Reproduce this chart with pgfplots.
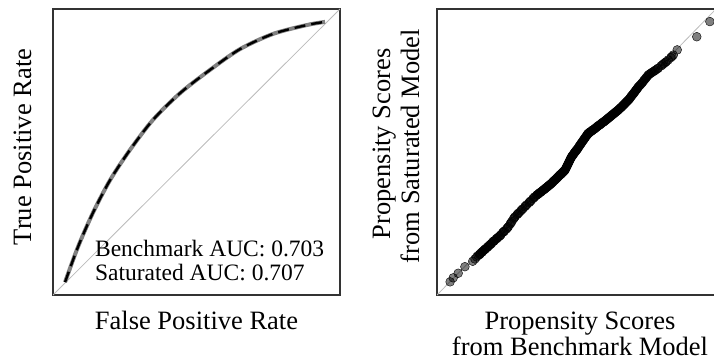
\documentclass[border=0pt]{standalone}
\usepackage{pgfplots}
\pgfplotsset{compat=1.18}
\usepackage{fontspec}
\setmainfont{Liberation Serif}
\definecolor{boxc}{HTML}{333333}
\definecolor{diagc}{HTML}{BBBBBB}
\definecolor{rocgray}{HTML}{808080}
\begin{document}
\begin{tikzpicture}[x=1pt,y=1pt]
\pgfplotsset{
  panel/.style={anchor=south west, scale only axis, xmin=0,xmax=1,ymin=0,ymax=1,
    xtick=\empty, ytick=\empty, axis line style={line width=1.6pt, color=boxc}}
}
\begin{axis}[panel, at={(53pt,67pt)}, width=287pt, height=286pt]
\addplot[diagc, line width=0.8pt] coordinates {(0,0) (1,1)};
\addplot[rocgray, line width=4pt, smooth, tension=0.5] coordinates {
(0.042,0.045) (0.087,0.168) (0.139,0.287) (0.199,0.402) (0.268,0.507) (0.348,0.612)
(0.443,0.706) (0.547,0.787) (0.652,0.860) (0.767,0.913) (0.885,0.944) (0.948,0.955)};
\addplot[black, line width=2.4pt, dash pattern=on 11pt off 6pt, smooth, tension=0.5] coordinates {
(0.042,0.045) (0.087,0.168) (0.139,0.287) (0.199,0.402) (0.268,0.507) (0.348,0.612)
(0.443,0.706) (0.547,0.787) (0.652,0.860) (0.767,0.913) (0.885,0.944) (0.948,0.955)};
\node[anchor=base west, inner sep=0pt, font=\fontsize{23.5}{28}\selectfont] at (axis cs:0.146,0.133) {Benchmark AUC: 0.703};
\node[anchor=base west, inner sep=0pt, font=\fontsize{23.5}{28}\selectfont] at (axis cs:0.146,0.052) {Saturated AUC: 0.707};
\end{axis}
\begin{axis}[panel, at={(437pt,67pt)}, width=279pt, height=286pt]
\addplot[diagc, line width=0.8pt] coordinates {(0,0) (1,1)};
\addplot[only marks, mark=*, mark size=4.4pt, mark options={draw=none, fill=black, fill opacity=0.5}] coordinates {
(0.047,0.046)(0.058,0.060)(0.076,0.076)(0.100,0.099)(0.128,0.118)(0.136,0.126)(0.142,0.133)(0.147,0.138)
(0.152,0.141)(0.156,0.146)(0.161,0.150)(0.166,0.155)(0.170,0.158)(0.175,0.162)(0.180,0.167)(0.186,0.172)
(0.190,0.176)(0.196,0.181)(0.201,0.187)(0.206,0.190)(0.212,0.196)(0.218,0.201)(0.223,0.205)(0.230,0.212)
(0.236,0.219)(0.242,0.224)(0.249,0.231)(0.256,0.239)(0.262,0.248)(0.268,0.257)(0.274,0.266)(0.280,0.274)
(0.287,0.281)(0.294,0.288)(0.300,0.294)(0.308,0.302)(0.315,0.309)(0.322,0.316)(0.330,0.323)(0.337,0.330)
(0.344,0.337)(0.351,0.344)(0.357,0.349)(0.363,0.353)(0.369,0.358)(0.375,0.362)(0.381,0.367)(0.386,0.371)
(0.391,0.375)(0.396,0.379)(0.401,0.383)(0.406,0.387)(0.411,0.391)(0.416,0.396)(0.421,0.401)(0.426,0.405)
(0.431,0.410)(0.436,0.415)(0.441,0.420)(0.446,0.424)(0.451,0.429)(0.455,0.433)(0.459,0.437)(0.463,0.445)
(0.467,0.453)(0.471,0.461)(0.475,0.469)(0.479,0.477)(0.483,0.484)(0.487,0.489)(0.491,0.495)(0.495,0.500)
(0.499,0.505)(0.503,0.510)(0.508,0.518)(0.513,0.525)(0.518,0.532)(0.523,0.539)(0.528,0.546)(0.533,0.553)
(0.538,0.560)(0.542,0.565)(0.547,0.569)(0.552,0.572)(0.557,0.576)(0.562,0.579)(0.567,0.583)(0.572,0.587)
(0.577,0.591)(0.582,0.594)(0.587,0.598)(0.592,0.602)(0.597,0.605)(0.602,0.609)(0.607,0.613)(0.612,0.617)
(0.617,0.621)(0.622,0.625)(0.627,0.629)(0.632,0.633)(0.637,0.637)(0.642,0.641)(0.647,0.645)(0.652,0.649)
(0.657,0.654)(0.662,0.658)(0.667,0.663)(0.672,0.668)(0.677,0.673)(0.682,0.678)(0.687,0.683)(0.692,0.689)
(0.697,0.696)(0.702,0.702)(0.707,0.708)(0.712,0.715)(0.717,0.721)(0.722,0.728)(0.729,0.735)(0.736,0.743)
(0.743,0.752)(0.750,0.760)(0.757,0.769)(0.766,0.775)(0.775,0.781)(0.784,0.787)(0.793,0.793)(0.803,0.801)
(0.813,0.809)(0.822,0.816)(0.829,0.822)(0.838,0.830)(0.847,0.839)(0.861,0.857)(0.931,0.903)(0.978,0.956)
(0.154,0.143)(0.163,0.151)(0.172,0.160)(0.182,0.168)(0.193,0.178)(0.203,0.188)(0.215,0.198)(0.227,0.208)
(0.239,0.221)(0.253,0.235)(0.265,0.252)(0.277,0.270)(0.290,0.284)(0.304,0.298)(0.318,0.312)(0.333,0.326)
(0.348,0.341)(0.360,0.351)(0.366,0.356)(0.372,0.360)(0.378,0.365)(0.384,0.369)(0.389,0.373)(0.394,0.377)
(0.399,0.381)(0.404,0.385)(0.409,0.389)(0.414,0.394)(0.419,0.399)(0.424,0.403)(0.429,0.408)(0.434,0.413)
(0.439,0.418)(0.444,0.422)(0.449,0.427)(0.453,0.431)(0.457,0.435)(0.461,0.441)(0.465,0.449)(0.469,0.457)
(0.473,0.465)(0.477,0.473)(0.481,0.481)(0.485,0.487)(0.489,0.492)(0.493,0.498)(0.497,0.503)(0.501,0.508)
(0.506,0.514)(0.511,0.522)(0.516,0.529)(0.521,0.536)(0.526,0.543)(0.531,0.550)(0.536,0.557)(0.540,0.563)
(0.545,0.567)(0.550,0.571)(0.555,0.574)(0.560,0.578)(0.565,0.581)(0.570,0.585)(0.575,0.589)(0.580,0.593)
(0.585,0.596)(0.590,0.600)(0.595,0.604)(0.600,0.607)(0.605,0.611)(0.610,0.615)(0.615,0.619)(0.620,0.623)
(0.625,0.627)(0.630,0.631)(0.635,0.635)(0.640,0.639)(0.645,0.643)(0.650,0.647)(0.655,0.652)(0.660,0.656)
(0.665,0.661)(0.670,0.666)(0.675,0.671)(0.680,0.676)(0.685,0.681)(0.690,0.686)(0.695,0.693)(0.700,0.699)
(0.705,0.705)(0.710,0.712)(0.715,0.718)(0.720,0.725)(0.726,0.732)(0.733,0.739)(0.740,0.748)(0.747,0.756)
(0.754,0.765)(0.761,0.772)(0.770,0.778)(0.780,0.784)(0.790,0.791)(0.808,0.805)(0.818,0.813)(0.842,0.834)};
\end{axis}
\begin{scope}[every node/.style={inner sep=0pt, font=\fontsize{26.5}{31}\selectfont}]
\node[anchor=base] at (196.5,33) {False Positive Rate};
\node[anchor=base, rotate=90] at (31,215) {True Positive Rate};
\node[anchor=base] at (580,33) {Propensity Scores};
\node[anchor=base] at (580,7) {from Benchmark Model};
\node[anchor=base, rotate=90] at (390,218) {Propensity Scores};
\node[anchor=base, rotate=90] at (419,216) {from Saturated Model};
\end{scope}
\pgfresetboundingbox
\path[use as bounding box] (0,0) rectangle (714,362);
\end{tikzpicture}
\end{document}
